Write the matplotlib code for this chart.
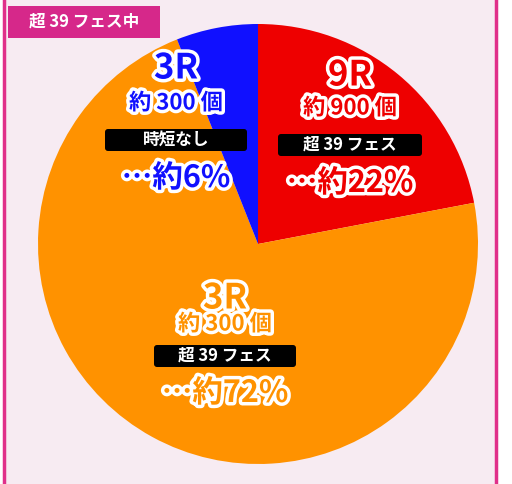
import matplotlib
matplotlib.use("Agg")
import matplotlib.pyplot as plt
import matplotlib.patheffects as pe
from matplotlib.patches import FancyBboxPatch, Rectangle

plt.rcParams['font.family'] = ['Noto Sans CJK JP', 'DejaVu Sans']

values = [22, 72, 6]
colors = ['#ee0000', '#ff9200', '#1010ff']
rounds = ['9R', '3R', '3R']
counts = ['約 900 個', '約 300 個', '約 300 個']
tags = ['超 39 フェス', '超 39 フェス', '時短なし']
pcts = ['…約22%', '…約72%', '…約6%']
title = '超 39 フェス中'

W, H = 512, 484
fig = plt.figure(figsize=(W/100, H/100), dpi=100)
ax = fig.add_axes([0, 0, 1, 1])
ax.set_xlim(0, W); ax.set_ylim(0, H); ax.axis('off')
ax.set_aspect('equal')
fig.patch.set_facecolor('white')
ax.add_patch(Rectangle((4, 0), 492, H, facecolor='#f7ebf2', edgecolor='none', zorder=0))
ax.plot([4, 4], [0, H], color='#e0308a', lw=2.5, zorder=1)
ax.plot([496, 496], [0, H], color='#e0308a', lw=2.5, zorder=1)

ax.pie(values, colors=colors, startangle=90, counterclock=False,
       center=(258, H-244), radius=220, wedgeprops=dict(linewidth=0), frame=True)
ax.set_xlim(0, W); ax.set_ylim(0, H); ax.axis('off')

ax.add_patch(Rectangle((8, H-38), 152, 32, facecolor='#d6288a', edgecolor='none', zorder=3))
ax.text(84, H-22, title, color='white', fontsize=12, fontweight='bold', ha='center', va='center', zorder=4)

pos = [(350, [75, 108, 145, 183], 150), (225, [298, 324, 356, 393], 148), (176, [68, 103, 140, 178], 148)]
for i, (x, ys, bw) in enumerate(pos):
    c = colors[i]
    st = [pe.withStroke(linewidth=5, foreground='white')]
    ax.text(x, H-ys[0], rounds[i], color=c, fontsize=25, fontweight='bold', ha='center', va='center', path_effects=st, zorder=5)
    ax.text(x, H-ys[1], counts[i], color=c, fontsize=16, fontweight='bold', ha='center', va='center', path_effects=st, zorder=5)
    ax.add_patch(FancyBboxPatch((x-bw/2+3, H-ys[2]-11), bw-6, 22, boxstyle='round,pad=0,rounding_size=3',
                                facecolor='black', edgecolor='none', zorder=5))
    ax.text(x, H-ys[2], tags[i], color='white', fontsize=12, fontweight='bold', ha='center', va='center', zorder=6)
    ax.text(x, H-ys[3], pcts[i], color=c, fontsize=22, fontweight='bold', ha='center', va='center', path_effects=st, zorder=5)

fig.savefig('out.png', dpi=100)
